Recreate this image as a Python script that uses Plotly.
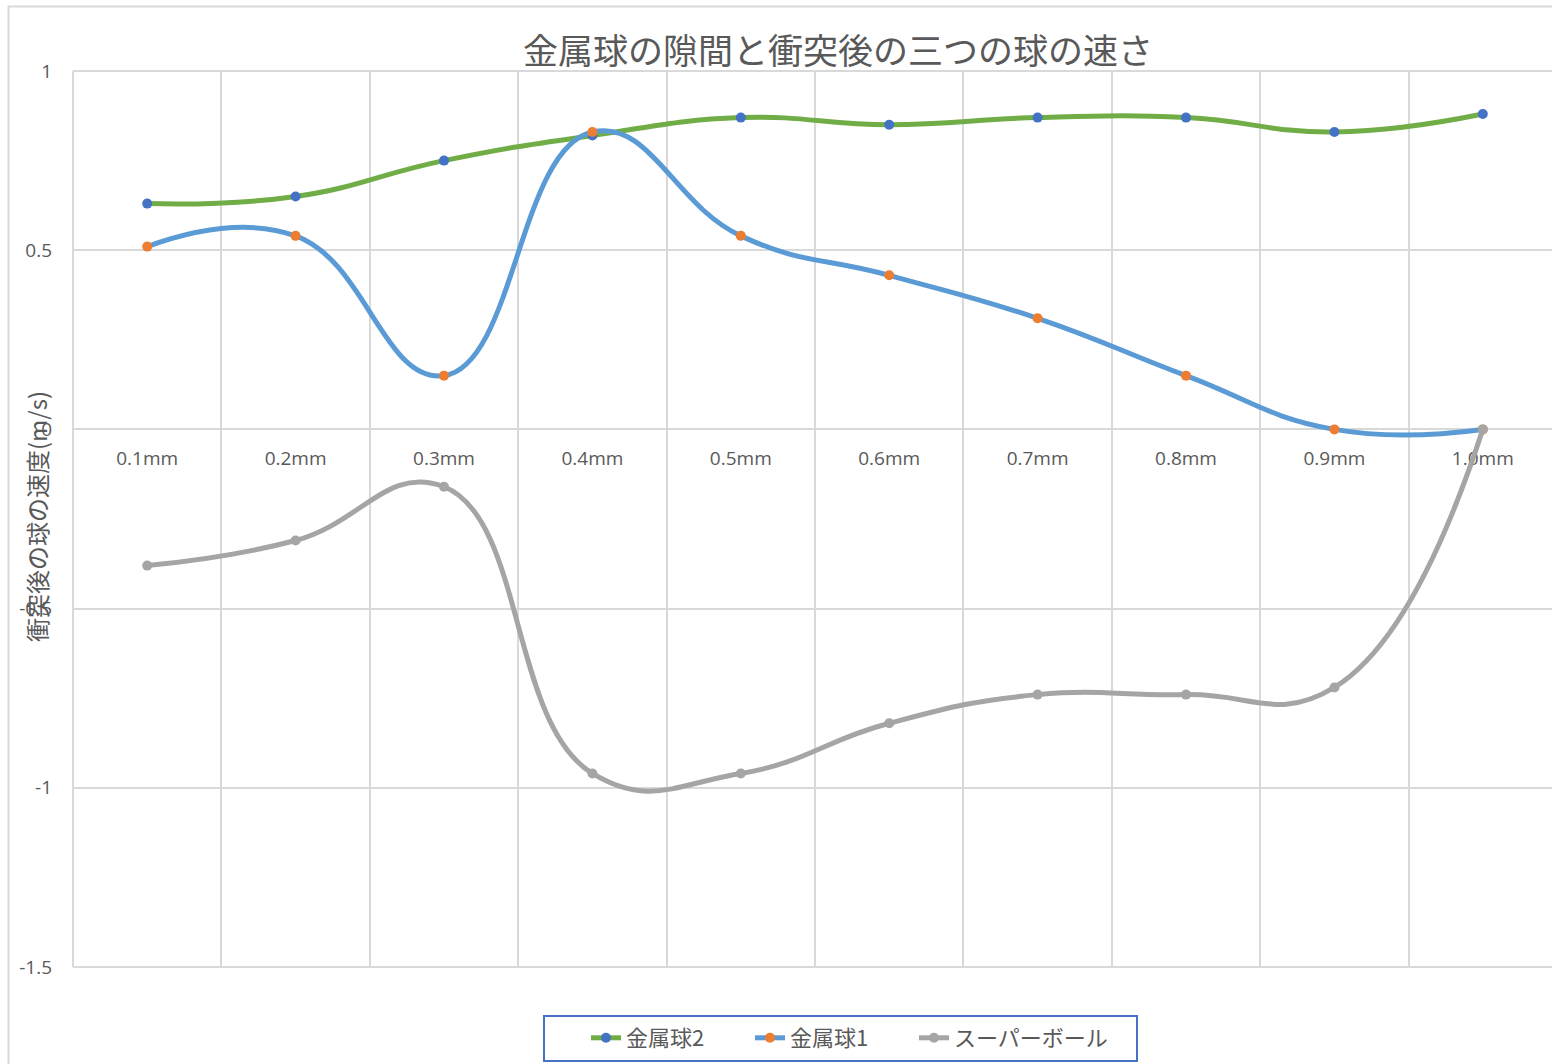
import plotly.graph_objects as go

# Gap between the metal balls (categories)
gaps = ["0.1mm", "0.2mm", "0.3mm", "0.4mm", "0.5mm",
        "0.6mm", "0.7mm", "0.8mm", "0.9mm", "1.0mm"]

# Speeds after collision (m/s)
metal2 = [0.63, 0.65, 0.75, 0.82, 0.87, 0.85, 0.87, 0.87, 0.83, 0.88]
metal1 = [0.51, 0.54, 0.15, 0.83, 0.54, 0.43, 0.31, 0.15, 0.0, 0.0]
superball = [-0.38, -0.31, -0.16, -0.96, -0.96, -0.82, -0.74, -0.74, -0.72, 0.0]

series_names = ["金属球2", "金属球1", "スーパーボール"]

y_ticks = [1, 0.5, 0, -0.5, -1, -1.5]
y_tick_labels = ["1", "0.5", "0", "-0.5", "-1", "-1.5"]

TEXT = "#595959"
GRID = "#d9d9d9"
JP = "Noto Sans CJK JP"
LATIN = "Open Sans, Noto Sans CJK JP"

W, H = 1552, 1064
ML, MR, MT, MB = 73, 0, 71, 97
plot_w = W - ML - MR
plot_h = H - MT - MB


def px_x(px):
    """Pixel x on the page -> paper x of the plot area."""
    return (px - ML) / plot_w


def px_y(py):
    """Pixel y on the page -> paper y of the plot area."""
    return (MT + plot_h - py) / plot_h


fig = go.Figure()

styles = [
    (metal2, "#70ad47", "#4472c4"),
    (metal1, "#5b9bd5", "#ed7d31"),
    (superball, "#a5a5a5", "#a5a5a5"),
]
legend_ids = ["legend", "legend2", "legend3"]
for name, (vals, line_c, mark_c), lg in zip(series_names, styles, legend_ids):
    fig.add_trace(go.Scatter(
        x=gaps, y=vals, name=name, mode="lines+markers", legend=lg,
        line=dict(color=line_c, width=5, shape="spline", smoothing=1.3),
        marker=dict(color=mark_c, size=10, line=dict(width=0)),
    ))

# Outer chart frame (left and top edges visible)
fig.add_shape(type="rect", xref="paper", yref="paper",
              x0=px_x(8.5), x1=1.2, y0=-0.3, y1=px_y(6.5),
              line=dict(color=GRID, width=2), layer="below")

# Plot-area edges: top, bottom and left
for x0, y0, x1, y1 in [(0, 1, 1, 1), (0, 0, 1, 0), (0, 0, 0, 1)]:
    fig.add_shape(type="line", xref="paper", yref="paper",
                  x0=x0, y0=y0, x1=x1, y1=y1,
                  line=dict(color=GRID, width=2), layer="below")

# Legend frame
fig.add_shape(type="rect", xref="paper", yref="paper",
              x0=px_x(544), x1=px_x(1137), y0=px_y(1061), y1=px_y(1016),
              line=dict(color="#4472c4", width=2), layer="above")

# Y-axis title, placed over the tick labels
fig.add_annotation(text="衝突後の球の速度(m/s)", textangle=-90,
                   xref="paper", yref="paper",
                   x=px_x(36), y=px_y(517),
                   xanchor="center", yanchor="middle", showarrow=False,
                   font=dict(family=JP, size=24, color=TEXT))

legend_common = dict(
    orientation="h", xref="container", yref="container",
    y=1 - 1038 / H, xanchor="left", yanchor="middle",
    borderwidth=0, bgcolor="rgba(0,0,0,0)",
    font=dict(family=JP, size=22, color=TEXT),
)

y_min, y_max = -1.5, 1.0
fig.update_layout(
    width=W, height=H,
    margin=dict(l=ML, r=MR, t=MT, b=MB, pad=0),
    paper_bgcolor="white", plot_bgcolor="white",
    title=dict(text="金属球の隙間と衝突後の三つの球の速さ",
               x=838 / W, xref="container", xanchor="center",
               y=1 - 52 / H, yref="container", yanchor="middle",
               font=dict(family=JP, size=35, color=TEXT)),
    xaxis=dict(
        type="category", range=[-0.5, -0.5 + plot_w / 148.4],
        tickson="boundaries", ticks="", showgrid=True,
        gridcolor=GRID, gridwidth=2, showline=False, zeroline=False,
        anchor="free", position=(0 - y_min) / (y_max - y_min),
        tickfont=dict(family=LATIN, size=19, color=TEXT),
        ticklabelstandoff=16, layer="below traces",
    ),
    yaxis=dict(
        range=[y_min, y_max], tickvals=y_ticks, ticktext=y_tick_labels,
        showgrid=True, gridcolor=GRID, gridwidth=2, zeroline=False,
        showline=False, ticks="",
        tickfont=dict(family=LATIN, size=19, color=TEXT),
        ticklabelstandoff=20,
    ),
    legend=dict(legend_common, x=(628 - 42) / W),
    legend2=dict(legend_common, x=(792 - 42) / W),
    legend3=dict(legend_common, x=(956 - 42) / W),
    showlegend=True,
)

fig.write_html("out.html")
